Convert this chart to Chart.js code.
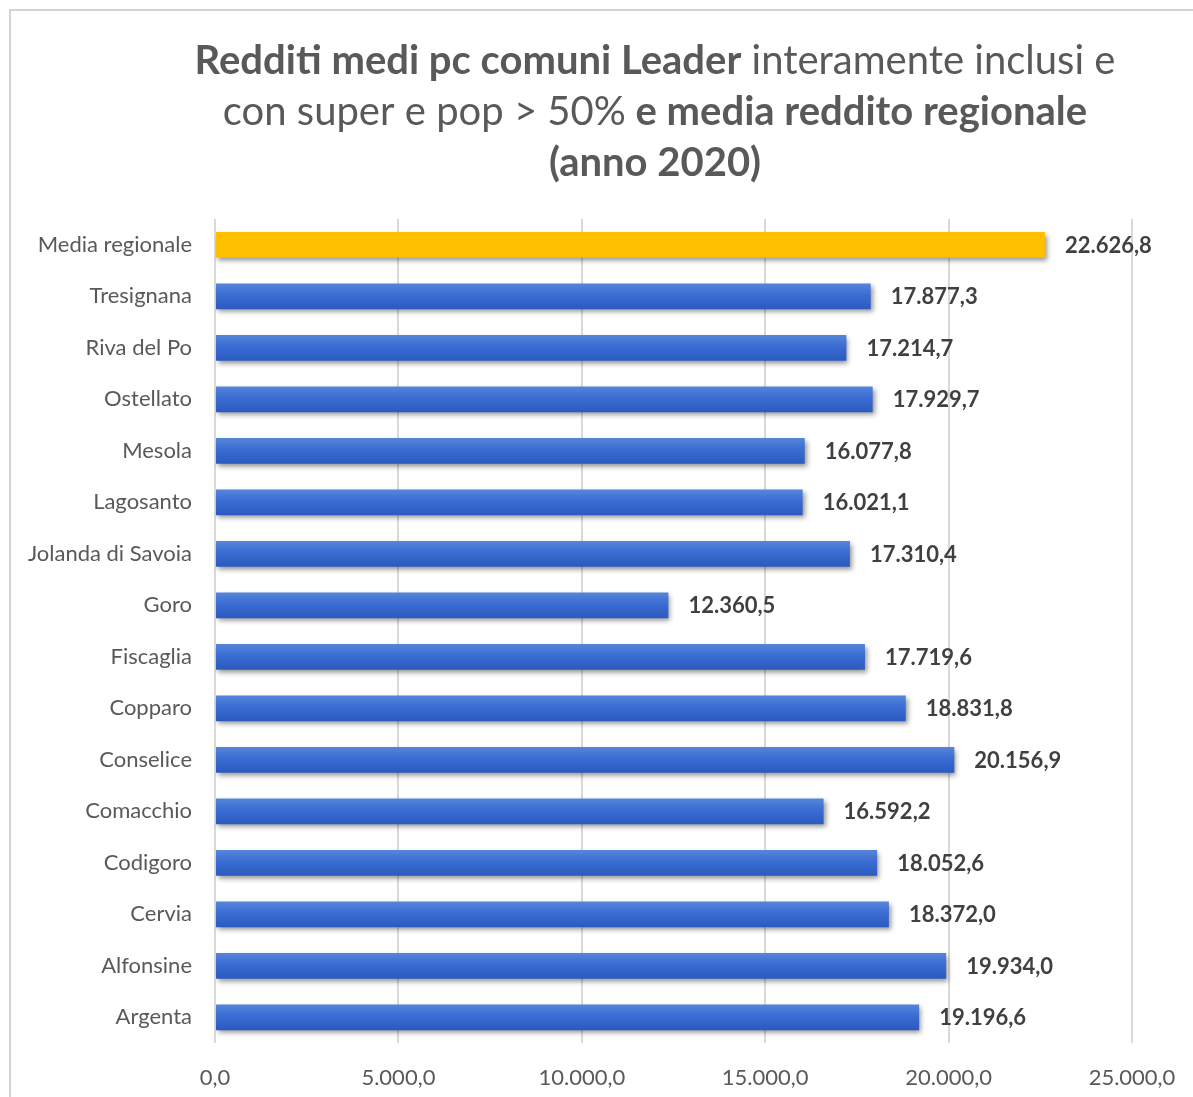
<!DOCTYPE html>
<html>
<head>
<meta charset="utf-8">
<script src="https://cdn.jsdelivr.net/npm/chart.js@4/dist/chart.umd.min.js"></script>
<style>
  html, body { margin: 0; padding: 0; background: #fff; overflow: hidden; }
  #wrap { position: absolute; left: 0; top: 0; width: 1193px; height: 1097px; }
  #frame {
    position: absolute; left: 9px; top: 9px; width: 1300px; height: 1200px;
    border-left: 2px solid #d4d4d4; border-top: 2px solid #d4d4d4;
    pointer-events: none;
  }
</style>
</head>
<body>
<div id="wrap"><canvas id="incomeChart"></canvas></div>
<div id="frame"></div>
<script>
const comuni = [
  "Media regionale", "Tresignana", "Riva del Po", "Ostellato", "Mesola",
  "Lagosanto", "Jolanda di Savoia", "Goro", "Fiscaglia", "Copparo",
  "Conselice", "Comacchio", "Codigoro", "Cervia", "Alfonsine", "Argenta"
];
const redditi = [
  22626.8, 17877.3, 17214.7, 17929.7, 16077.8,
  16021.1, 17310.4, 12360.5, 17719.6, 18831.8,
  20156.9, 16592.2, 18052.6, 18372.0, 19934.0, 19196.6
];
const xTicks = [0, 5000, 10000, 15000, 20000, 25000];

const titleLines = [
  [{ text: "Redditi medi pc comuni Leader", bold: true }, { text: " interamente inclusi e", bold: false }],
  [{ text: "con super e pop > 50%", bold: false }, { text: " e media reddito regionale", bold: true }],
  [{ text: "(anno 2020)", bold: true }]
];

const FONT = "Lato, 'Open Sans', sans-serif";
const GREY = "#595959";

// 12345.6 -> "12.345,6"
function fmt(v) {
  const parts = v.toFixed(1).split(".");
  const int = parts[0].replace(/\B(?=(\d{3})+(?!\d))/g, ".");
  return int + "," + parts[1];
}

function barFill(c) {
  if (c.dataIndex === 0) return "#ffc000";
  const chart = c.chart;
  const area = chart.chartArea;
  if (!area) return "#3a6dd2";
  const y = chart.scales.y.getPixelForValue(c.dataIndex);
  const half = (area.bottom - area.top) / comuni.length * 0.25;
  const g = chart.ctx.createLinearGradient(0, y - half, 0, y + half);
  g.addColorStop(0, "#5686da");
  g.addColorStop(0.45, "#3a6cd3");
  g.addColorStop(1, "#2b5abf");
  return g;
}

// drop shadow under the bars
const barShadow = {
  id: "barShadow",
  beforeDatasetsDraw(chart) {
    const ctx = chart.ctx;
    ctx.save();
    ctx.shadowColor = "rgba(0,0,0,0.42)";
    ctx.shadowBlur = 5;
    ctx.shadowOffsetX = 2;
    ctx.shadowOffsetY = 3;
  },
  afterDatasetsDraw(chart) {
    chart.ctx.restore();
  }
};

// bold value at the end of each bar
const valueLabels = {
  id: "valueLabels",
  afterDatasetsDraw(chart) {
    const ctx = chart.ctx;
    const meta = chart.getDatasetMeta(0);
    ctx.save();
    ctx.font = "bold 22px " + FONT;
    ctx.fillStyle = "#404040";
    ctx.textAlign = "left";
    ctx.textBaseline = "middle";
    meta.data.forEach((bar, i) => {
      ctx.fillText(fmt(redditi[i]), bar.x + 20, bar.y + 1);
    });
    ctx.restore();
  }
};

// title with mixed bold / regular runs
const richTitle = {
  id: "richTitle",
  afterDraw(chart, args, opts) {
    const ctx = chart.ctx;
    ctx.save();
    ctx.fillStyle = GREY;
    ctx.textBaseline = "middle";
    ctx.textAlign = "left";
    titleLines.forEach((runs, li) => {
      let total = 0;
      runs.forEach(r => {
        ctx.font = (r.bold ? "bold " : "") + opts.size + "px " + FONT;
        r.w = ctx.measureText(r.text).width;
        total += r.w;
      });
      let x = opts.centerX - total / 2;
      const y = opts.firstY + li * opts.lineHeight;
      runs.forEach(r => {
        ctx.font = (r.bold ? "bold " : "") + opts.size + "px " + FONT;
        ctx.fillText(r.text, x, y);
        x += r.w;
      });
    });
    ctx.restore();
  }
};

new Chart(document.getElementById("incomeChart"), {
  type: "bar",
  data: {
    labels: comuni,
    datasets: [{
      data: redditi,
      backgroundColor: barFill,
      barPercentage: 0.5,
      categoryPercentage: 1.0
    }]
  },
  plugins: [barShadow, valueLabels, richTitle],
  options: {
    indexAxis: "y",
    responsive: true,
    maintainAspectRatio: false,
    animation: false,
    layout: { padding: { top: 219, right: 61, left: 0, bottom: 0 } },
    plugins: {
      legend: { display: false },
      tooltip: { enabled: false },
      richTitle: { centerX: 655, firstY: 61, lineHeight: 51, size: 40 }
    },
    scales: {
      x: {
        min: 0,
        max: 25000,
        afterBuildTicks(axis) { axis.ticks = xTicks.map(v => ({ value: v })); },
        afterFit(axis) {
          axis.height = 54;
          axis.paddingLeft = 0;
          axis.paddingRight = 0;
        },
        grid: { color: "#d9d9d9", lineWidth: 2, drawTicks: false },
        border: { display: false },
        ticks: {
          padding: 22,
          color: GREY,
          font: { family: FONT, size: 22 },
          callback: v => fmt(v)
        }
      },
      y: {
        afterFit(axis) { axis.width = 215; },
        grid: { display: false, drawTicks: false },
        border: { display: false },
        ticks: {
          padding: 23,
          color: GREY,
          font: { family: FONT, size: 22 }
        }
      }
    }
  }
});
</script>
</body>
</html>
